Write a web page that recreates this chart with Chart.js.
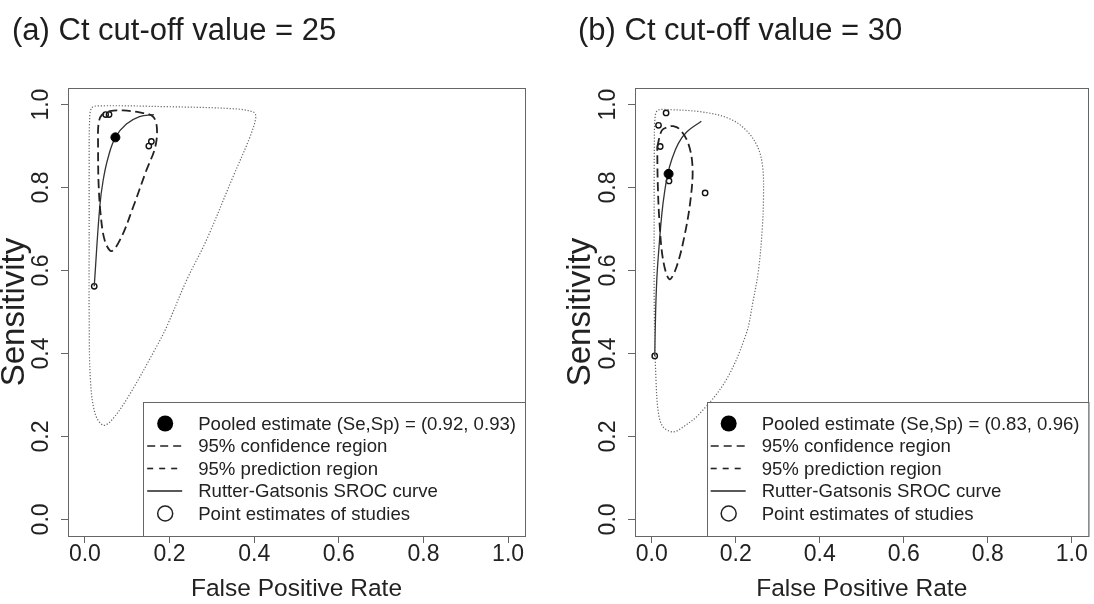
<!DOCTYPE html>
<html><head><meta charset="utf-8">
<script src="https://cdn.jsdelivr.net/npm/chart.js@4.4.1/dist/chart.umd.min.js"></script>
<style>
html,body{margin:0;padding:0;background:#fff;}
#wrap{position:relative;width:1094px;height:604px;overflow:hidden;background:#fff;font-family:"Liberation Sans",Arial,Helvetica,sans-serif;}
canvas{position:absolute;top:0;}
.ttl{position:absolute;top:14px;font-size:31px;line-height:31px;color:#1e1e1e;white-space:nowrap;}
</style></head><body>
<div id="wrap">
<canvas id="cA" width="547" height="604" style="left:0"></canvas>
<canvas id="cB" width="547" height="604" style="left:547px"></canvas>
<div class="ttl" style="left:12px">(a) Ct cut-off value = 25</div>
<div class="ttl" style="left:578px">(b) Ct cut-off value = 30</div>
</div>
<script>
const FONT = '"Liberation Sans", Arial, Helvetica, sans-serif';

// axis ticks
const axisTicks = [0, 0.2, 0.4, 0.6, 0.8, 1.0];
const axisTickLabels = ['0.0', '0.2', '0.4', '0.6', '0.8', '1.0'];
const xTitle = 'False Positive Rate';
const yTitle = 'Sensitivity';

// legend texts
const legendA = ['Pooled estimate (Se,Sp) = (0.92, 0.93)', '95% confidence region', '95% prediction region', 'Rutter-Gatsonis SROC curve', 'Point estimates of studies'];
const legendB = ['Pooled estimate (Se,Sp) = (0.83, 0.96)', '95% confidence region', '95% prediction region', 'Rutter-Gatsonis SROC curve', 'Point estimates of studies'];

// ---- Panel (a): Ct cut-off = 25 ----
const aPooledFpr = [0.072];
const aPooledSe  = [0.921];
const aStudyFpr = [0.049, 0.057, 0.151, 0.157, 0.022];
const aStudySe  = [0.976, 0.976, 0.900, 0.911, 0.562];
const aConfFpr = [0.031, 0.032, 0.040, 0.059, 0.090, 0.129, 0.160, 0.170, 0.166, 0.145, 0.114, 0.086, 0.063, 0.047, 0.037, 0.032, 0.031];
const aConfSe  = [0.897, 0.953, 0.975, 0.984, 0.986, 0.981, 0.972, 0.945, 0.897, 0.841, 0.753, 0.680, 0.647, 0.672, 0.737, 0.817, 0.897];
const aPredFpr = [0.010, 0.010, 0.011, 0.016, 0.035, 0.192, 0.350, 0.398, 0.404, 0.390, 0.350, 0.287, 0.240, 0.193, 0.169, 0.102, 0.063, 0.043, 0.024, 0.013, 0.010, 0.010];
const aPredSe  = [0.690, 0.850, 0.960, 0.992, 0.997, 0.995, 0.990, 0.982, 0.970, 0.922, 0.826, 0.673, 0.576, 0.464, 0.416, 0.295, 0.239, 0.227, 0.255, 0.336, 0.496, 0.690];
const aSrocFpr = [0.022, 0.035, 0.043, 0.055, 0.072, 0.098, 0.129, 0.163];
const aSrocSe  = [0.562, 0.753, 0.817, 0.873, 0.921, 0.953, 0.971, 0.976];

// ---- Panel (b): Ct cut-off = 30 ----
const bPooledFpr = [0.04];
const bPooledSe  = [0.833];
const bStudyFpr = [0.034, 0.016, 0.020, 0.041, 0.127, 0.007];
const bStudySe  = [0.980, 0.950, 0.899, 0.816, 0.787, 0.394];
const bConfFpr = [0.013, 0.024, 0.039, 0.051, 0.067, 0.087, 0.097, 0.093, 0.079, 0.059, 0.042, 0.027, 0.018, 0.014, 0.013];
const bConfSe  = [0.898, 0.938, 0.946, 0.948, 0.940, 0.906, 0.850, 0.777, 0.689, 0.609, 0.579, 0.625, 0.721, 0.818, 0.898];
const bPredFpr = [0.0055, 0.006, 0.008, 0.014, 0.035, 0.122, 0.185, 0.225, 0.252, 0.264, 0.266, 0.263, 0.254, 0.240, 0.225, 0.177, 0.114, 0.075, 0.051, 0.027, 0.016, 0.010, 0.006, 0.0055];
const bPredSe  = [0.657, 0.898, 0.972, 0.986, 0.988, 0.982, 0.966, 0.938, 0.898, 0.850, 0.777, 0.700, 0.600, 0.520, 0.448, 0.336, 0.255, 0.223, 0.211, 0.223, 0.255, 0.336, 0.496, 0.657];
const bSrocFpr = [0.007, 0.009, 0.012, 0.016, 0.024, 0.031, 0.038, 0.047, 0.063, 0.083, 0.118];
const bSrocSe  = [0.394, 0.496, 0.580, 0.641, 0.737, 0.793, 0.833, 0.866, 0.906, 0.934, 0.960];

const zip = (xs, ys) => xs.map((x, i) => ({x: x, y: ys[i]}));

const boxLegend = {
  id: 'boxLegend',
  afterDatasetsDraw(chart, args, o) {
    const ctx = chart.ctx, a = chart.chartArea, ds = chart.data.datasets;
    ctx.save();
    ctx.font = o.fontSize + 'px ' + FONT;
    const maxW = Math.max(...ds.map(d => ctx.measureText(d.label).width));
    const W = o.textOffset + maxW + o.padRight;
    const H = o.firstRow + o.rowGap * (ds.length - 1) + o.lastPad;
    const L = a.right - W, T = a.bottom - H;
    ctx.fillStyle = '#fff';
    ctx.fillRect(L, T, W, H);
    ctx.strokeStyle = '#666'; ctx.lineWidth = 1;
    ctx.strokeRect(Math.round(L) + 0.5, Math.round(T) + 0.5, a.right - Math.round(L), a.bottom - Math.round(T));
    ds.forEach((d, i) => {
      const y = T + o.firstRow + i * o.rowGap;
      if (d.legendSymbol === 'line') {
        ctx.beginPath();
        ctx.setLineDash(d.legendDash || []);
        ctx.strokeStyle = '#222'; ctx.lineWidth = 1.6;
        ctx.moveTo(L + o.lineStart, y); ctx.lineTo(L + o.lineEnd, y);
        ctx.stroke();
        ctx.setLineDash([]);
      } else {
        ctx.beginPath();
        ctx.arc(L + o.symbolX, y, d.legendSymbol === 'filled' ? o.dotR : o.ringR, 0, Math.PI * 2);
        if (d.legendSymbol === 'filled') { ctx.fillStyle = '#000'; ctx.fill(); }
        else { ctx.strokeStyle = '#222'; ctx.lineWidth = 1.5; ctx.stroke(); }
      }
      ctx.fillStyle = '#222';
      ctx.textBaseline = 'middle';
      ctx.textAlign = 'left';
      ctx.fillText(d.label, L + o.textOffset, y + 1);
    });
    ctx.restore();
  }
};

function tickAxis(extra) {
  return Object.assign({
    type: 'linear', min: -0.04, max: 1.04,
    afterBuildTicks: s => { s.ticks = axisTicks.map(v => ({value: v})); },
    grid: {display: true, drawOnChartArea: false, drawTicks: true, tickLength: 7, color: '#666', lineWidth: 1},
    border: {display: true, color: '#666', width: 1}
  }, extra);
}

function buildChart(id, p) {
  const datasets = [
    {label: p.legend[0], data: zip(p.pooledX, p.pooledY), showLine: false, pointRadius: 4.5, pointBorderWidth: 1,
     pointBackgroundColor: '#000', pointBorderColor: '#000', legendSymbol: 'filled'},
    {label: p.legend[1], data: zip(p.confX, p.confY), showLine: true, fill: false, pointRadius: 0, tension: 0.35,
     borderColor: '#222', borderWidth: 1.8, borderDash: [9, 4.5], legendSymbol: 'line', legendDash: [8, 5]},
    {label: p.legend[2], data: zip(p.predX, p.predY), showLine: true, fill: false, pointRadius: 0, tension: 0.35,
     borderColor: '#666', borderWidth: 1.2, borderDash: [1.2, 1.8], legendSymbol: 'line', legendDash: [6, 6]},
    {label: p.legend[3], data: zip(p.srocX, p.srocY), showLine: true, fill: false, pointRadius: 0, tension: 0.4,
     borderColor: '#333', borderWidth: 1.3, legendSymbol: 'line', legendDash: []},
    {label: p.legend[4], data: zip(p.studyX, p.studyY), showLine: false, pointRadius: 2.7, pointBorderWidth: 1.4,
     pointBackgroundColor: 'rgba(255,255,255,0)', pointBorderColor: '#111', legendSymbol: 'open'}
  ];
  return new Chart(document.getElementById(id), {
    type: 'scatter',
    data: {datasets: datasets},
    plugins: [boxLegend],
    options: {
      responsive: false, animation: false, events: [],
      layout: {padding: {left: 0, right: p.padRight, top: 88, bottom: 0}},
      plugins: {
        legend: {display: false}, tooltip: {enabled: false},
        boxLegend: {fontSize: 18.6, textOffset: 55, padRight: 9, firstRow: 21.5, rowGap: 22.5, lastPad: 22.5,
                    symbolX: 22, lineStart: 4, lineEnd: 39, dotR: 8, ringR: 7.5}
      },
      scales: {
        x: tickAxis({
          position: 'bottom',
          afterFit: s => { s.height = 68; },
          ticks: {autoSkip: false, maxRotation: 0, minRotation: 0, padding: 0, color: '#222',
                  font: {family: FONT, size: 23, lineHeight: 1}, callback: (v, i) => axisTickLabels[i]},
          title: {display: true, text: xTitle, color: '#222', font: {family: FONT, size: 24.5, lineHeight: 1.2}, padding: {top: 0, bottom: 0}}
        }),
        y: tickAxis({
          position: 'left',
          afterFit: s => { s.width = p.yWidth; },
          ticks: {autoSkip: false, minRotation: 90, maxRotation: 90, crossAlign: 'center', padding: 3.5, color: '#222',
                  font: {family: FONT, size: 23, lineHeight: 1}, callback: (v, i) => axisTickLabels[i]},
          title: {display: true, text: yTitle, color: '#222', font: {family: FONT, size: 33, lineHeight: 1}, padding: {top: p.yTitlePad, bottom: 0}}
        }),
        x2: {type: 'linear', position: 'top', min: -0.04, max: 1.04, ticks: {display: false},
             grid: {display: false, drawTicks: false}, border: {display: true, color: '#666', width: 1},
             afterFit: s => { s.height = 0; }},
        y2: {type: 'linear', position: 'right', min: -0.04, max: 1.04, ticks: {display: false},
             grid: {display: false, drawTicks: false}, border: {display: true, color: '#666', width: 1},
             afterFit: s => { s.width = 0; }}
      }
    }
  });
}

buildChart('cA', {
  legend: legendA, pooledX: aPooledFpr, pooledY: aPooledSe, studyX: aStudyFpr, studyY: aStudySe,
  confX: aConfFpr, confY: aConfSe, predX: aPredFpr, predY: aPredSe, srocX: aSrocFpr, srocY: aSrocSe,
  padRight: 22, yWidth: 68, yTitlePad: -2
});
buildChart('cB', {
  legend: legendB, pooledX: bPooledFpr, pooledY: bPooledSe, studyX: bStudyFpr, studyY: bStudySe,
  confX: bConfFpr, confY: bConfSe, predX: bPredFpr, predY: bPredSe, srocX: bSrocFpr, srocY: bSrocSe,
  padRight: 3, yWidth: 88, yTitlePad: 17
});
</script>
</body></html>
